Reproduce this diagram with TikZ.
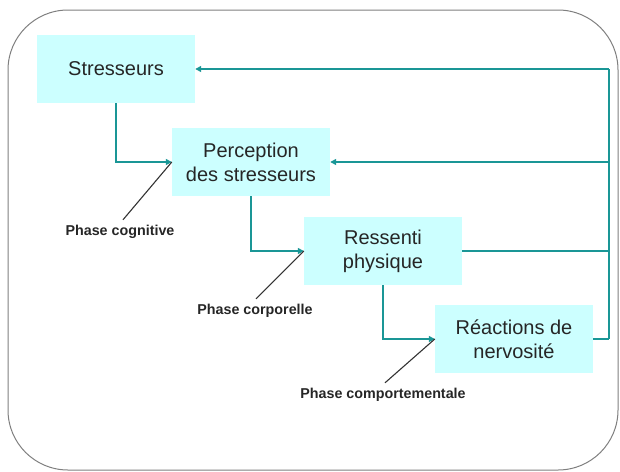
\documentclass[tikz,border=0pt]{standalone}
\usepackage{fontspec}
\setmainfont{Liberation Sans}
\usetikzlibrary{arrows.meta}

\definecolor{boxfill}{HTML}{CCFFFF}
\definecolor{flowteal}{HTML}{1A9696}
\definecolor{framegrey}{HTML}{7F7F7F}

\begin{document}
\begin{tikzpicture}[x=1pt,y=-1pt,
    stage/.style={fill=boxfill, minimum width=158pt, minimum height=68pt,
      align=center, text=black!85, font=\fontsize{20}{24}\selectfont},
    phase/.style={font=\bfseries\fontsize{14.3}{16}\selectfont, text=black!85},
    flow/.style={draw=flowteal, line width=1.8pt},
    flowarrow/.style={flow, -{Triangle[length=6pt,width=6pt]}},
    pointer/.style={draw=black!80, line width=1.1pt}]
    \useasboundingbox (0,0) rectangle (620,471);
    \draw[framegrey, line width=1pt, rounded corners=60pt] (8,10) rectangle (618,470);
    % boxes
    \node[stage] (stress) at (116,69) {Stresseurs};
    \node[stage] (perc) at (251,162) {Perception\\des stresseurs};
    \node[stage] (ress) at (383,251) {Ressenti\\physique};
    \node[stage] (react) at (514,339) {Réactions de\\nervosité};
    % phases
    \node[phase] (cog) at (120,232) {Phase cognitive};
    \node[phase] (corp) at (255,311) {Phase corporelle};
    \node[phase] (comp) at (383,395) {Phase comportementale};
    % feedback rail
    \coordinate (railtop) at (609,69);
    \coordinate (railbot) at (609,339);
    \draw[flow] (railbot) -- (railtop);
    \draw[flowarrow] (railtop) -- (stress.east);
    \draw[flowarrow] (perc.east -| railtop) -- (perc.east);
    \draw[flow] (ress.east) -- (ress.east -| railtop);
    \draw[flow] (react.east) -- (react.east -| railtop);
    % main chain
    \draw[flowarrow] (stress.south) |- (perc.west);
    \draw[flowarrow] (perc.south) |- (ress.west);
    \draw[flowarrow] (ress.south) |- (react.west);
    \draw[pointer] ([xshift=3pt,yshift=2pt]cog.north) -- (perc.west);
    \draw[pointer] ([xshift=1pt,yshift=2pt]corp.north) -- (ress.west);
    \draw[pointer] ([xshift=2pt,yshift=2pt]comp.north) -- (react.west);
\end{tikzpicture}
\end{document}
